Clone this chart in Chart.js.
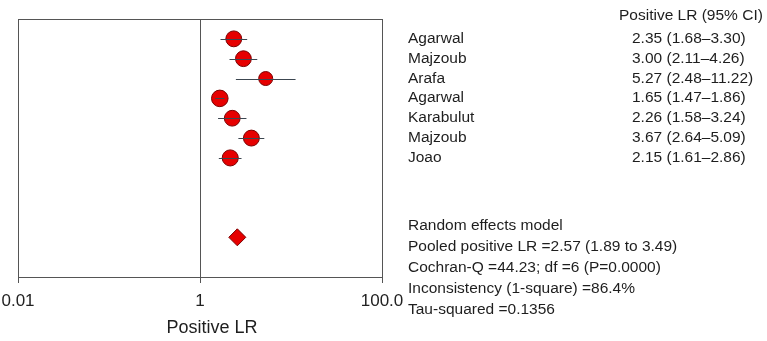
<!DOCTYPE html>
<html lang="en">
<head>
  <meta charset="UTF-8">
  <title>Positive LR forest plot</title>
  <style>
    body {
      margin: 0;
      padding: 0;
      background: #fff;
      font-family: "Liberation Sans", Arial, sans-serif;
    }
    .wrap {
      position: relative;
      width: 767px;
      height: 341px;
    }
    canvas {
      position: absolute;
      left: 0;
      top: 0;
    }
    .txt {
      position: absolute;
      font-size: 15.5px;
      line-height: 18px;
      color: #1e1e1e;
      white-space: nowrap;
    }
    .axis-title {
      font-size: 18px;
      line-height: 20px;
      transform: translateX(-50%);
    }
  </style>
</head>
<body>
  <div class="wrap" id="wrap">
    <canvas id="forest" width="767" height="341"></canvas>
  </div>

  <script src="https://cdn.jsdelivr.net/npm/chart.js"></script>
  <script>
    // study data (positive likelihood ratio with 95% CI)
    const studies = ['Agarwal', 'Majzoub', 'Arafa', 'Agarwal', 'Karabulut', 'Majzoub', 'Joao'];
    const lr = [2.35, 3.00, 5.27, 1.65, 2.26, 3.67, 2.15];
    const lower = [1.68, 2.11, 2.48, 1.47, 1.58, 2.64, 1.61];
    const upper = [3.30, 4.26, 11.22, 1.86, 3.24, 5.09, 2.86];
    const ciLabels = ['2.35 (1.68\u20133.30)', '3.00 (2.11\u20134.26)', '5.27 (2.48\u201311.22)',
      '1.65 (1.47\u20131.86)', '2.26 (1.58\u20133.24)', '3.67 (2.64\u20135.09)', '2.15 (1.61\u20132.86)'];
    const pooledLR = 2.57;
    const tau2 = 0.1356;
    const statLines = [
      'Random effects model',
      'Pooled positive LR =2.57 (1.89 to 3.49)',
      'Cochran-Q =44.23; df =6 (P=0.0000)',
      'Inconsistency (1-square) =86.4%',
      'Tau-squared =0.1356'
    ];
    const tickVals = [0.01, 1, 100];
    const tickLabels = ['0.01', '1', '100.0'];

    // marker size from random-effects weight
    const radii = lr.map((v, i) => {
      const se = (Math.log(upper[i]) - Math.log(lower[i])) / 3.92;
      return 4 + 1.6 * Math.sqrt(1 / (se * se + tau2));
    });

    const forestPlugin = {
      id: 'forest',
      beforeDatasetsDraw(chart) {
        const { ctx, chartArea: a, scales: { x } } = chart;
        ctx.save();
        ctx.strokeStyle = '#555';
        ctx.lineWidth = 1;
        ctx.strokeRect(Math.round(a.left) + 0.5, Math.round(a.top) + 0.5,
          Math.round(a.right - a.left), Math.round(a.bottom - a.top));
        const x1 = Math.round(x.getPixelForValue(1)) + 0.5;
        ctx.beginPath();
        ctx.moveTo(x1, a.top);
        ctx.lineTo(x1, a.bottom);
        ctx.stroke();
        ctx.restore();
      },
      afterDatasetsDraw(chart) {
        const { ctx, scales: { x, y } } = chart;
        ctx.save();
        ctx.strokeStyle = '#3c4650';
        ctx.lineWidth = 1;
        lr.forEach((v, i) => {
          const py = Math.round(y.getPixelForValue(i + 1)) + 0.5;
          ctx.beginPath();
          ctx.moveTo(x.getPixelForValue(lower[i]), py);
          ctx.lineTo(x.getPixelForValue(upper[i]), py);
          ctx.stroke();
        });
        ctx.restore();
      }
    };

    const ctx = document.getElementById('forest').getContext('2d');
    const chart = new Chart(ctx, {
      type: 'scatter',
      data: {
        datasets: [
          {
            data: lr.map((v, i) => ({ x: v, y: i + 1 })),
            pointRadius: radii,
            pointHoverRadius: radii,
            backgroundColor: '#e60000',
            borderColor: '#7a0000',
            borderWidth: 1
          },
          {
            data: [{ x: pooledLR, y: 11 }],
            pointStyle: 'rectRot',
            pointRadius: 8.5,
            pointHoverRadius: 8.5,
            backgroundColor: '#e60000',
            borderColor: '#7a0000',
            borderWidth: 1
          }
        ]
      },
      options: {
        responsive: false,
        animation: false,
        layout: { padding: { left: 18, top: 19, right: 385, bottom: 0 } },
        plugins: {
          legend: { display: false },
          tooltip: { enabled: false }
        },
        scales: {
          x: {
            type: 'logarithmic',
            min: 0.01,
            max: 100,
            afterBuildTicks: s => { s.ticks = tickVals.map(v => ({ value: v })); },
            afterFit: s => {
              s.height = 64;
              s.paddingLeft = 0;
              s.paddingRight = 0;
            },
            ticks: {
              callback: (v, i) => tickLabels[i],
              font: { family: '"Liberation Sans", Arial, sans-serif', size: 17 },
              color: '#222',
              padding: 8,
              maxRotation: 0,
              autoSkip: false
            },
            grid: { drawOnChartArea: false, tickLength: 6, color: '#555' },
            border: { color: '#555' }
          },
          y: { min: 0, max: 13, reverse: true, display: false }
        }
      },
      plugins: [forestPlugin]
    });

    // text table on the right
    const wrap = document.getElementById('wrap');
    function addText(str, left, centerY, cls) {
      const d = document.createElement('div');
      d.className = 'txt' + (cls ? ' ' + cls : '');
      d.textContent = str;
      d.style.left = left + 'px';
      d.style.top = (centerY - 9) + 'px';
      wrap.appendChild(d);
    }
    addText('Positive LR (95% CI)', 619, 15);
    studies.forEach((s, i) => {
      const py = chart.scales.y.getPixelForValue(i + 1) - 1;
      addText(s, 408, py);
      addText(ciLabels[i], 632, py);
    });
    statLines.forEach((s, i) => addText(s, 408, 225 + i * 21));
    addText('Positive LR', 212, 326, 'axis-title');
  </script>
</body>
</html>
